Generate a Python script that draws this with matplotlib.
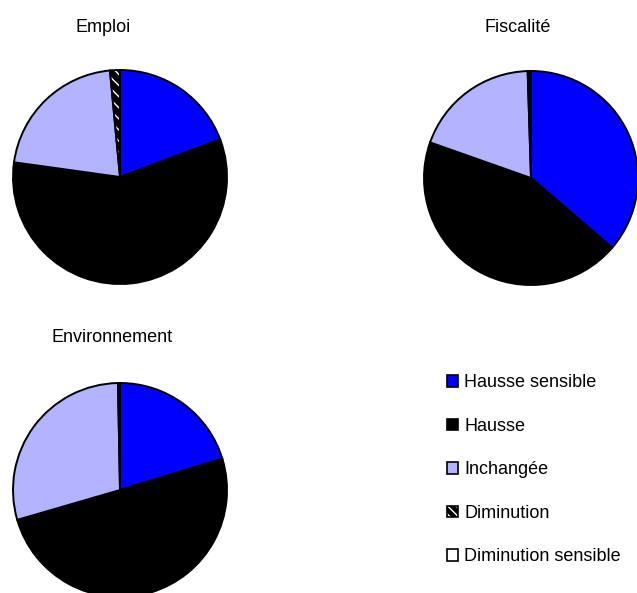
import numpy as np
import matplotlib
matplotlib.use("Agg")
import matplotlib.pyplot as plt
from matplotlib.patches import Patch

plt.rcParams['font.family'] = ['Liberation Sans', 'DejaVu Sans']

#--------------------------------------------------------------------------------------------------
categories = ['Hausse sensible', 'Hausse', 'Inchangée', 'Diminution', 'Diminution sensible']
colors = ['#0000FF', '#000000', '#B3B3FF', '#000000', '#FFFFFF']

emploi = [19.3, 57.9, 21.3, 1.5, 0.0]
fiscalite = [36.3, 44.1, 19.1, 0.5, 0.0]
environnement = [20.3, 50.2, 29.2, 0.3, 0.0]

titles = ['Emploi', 'Fiscalité', 'Environnement']
#--------------------------------------------------------------------------------------------------

W, H = 637, 593
R = 107
fig = plt.figure(figsize=(W / 100, H / 100), dpi=100)

def pie_at(values, cx, cy, stripes=True):
    ax = fig.add_axes([(cx - R) / W, (H - cy - R) / H, 2 * R / W, 2 * R / H])
    wedges, _ = ax.pie(values, colors=colors, startangle=90, counterclock=False,
                       radius=1.0, wedgeprops=dict(edgecolor='black', linewidth=1.4))
    # striped slice for "Diminution"
    if stripes:
        wedges[3].set_hatch('\\\\\\')
        wedges[3]._hatch_color = (1, 1, 1, 1)
    ax.set_xlim(-1, 1)
    ax.set_ylim(-1, 1)
    ax.set_aspect('equal')
    ax.axis('off')
    return ax

pie_at(emploi, 120, 177)
pie_at(fiscalite, 531, 178, stripes=False)
pie_at(environnement, 120, 490, stripes=False)

fs = 13
fig.text(103.5 / W, 1 - 28 / H, titles[0], ha='center', va='center', fontsize=fs)
fig.text(517.5 / W, 1 - 28 / H, titles[1], ha='center', va='center', fontsize=fs)
fig.text(112.5 / W, 1 - 338 / H, titles[2], ha='center', va='center', fontsize=fs)

handles = []
for c, lab in zip(colors, categories):
    p = Patch(facecolor=c, edgecolor='black', linewidth=1.2, label=lab)
    handles.append(p)
handles[3].set_hatch('\\\\\\\\')
handles[3]._hatch_color = (1, 1, 1, 1)

fig.legend(handles=handles, loc='upper left', bbox_to_anchor=(440 / W, 1 - 367 / H),
           frameon=False, fontsize=fs, handlelength=0.6, handleheight=0.6,
           handletextpad=0.35, labelspacing=1.47, borderaxespad=0)

plt.savefig('out.png', dpi=100)
